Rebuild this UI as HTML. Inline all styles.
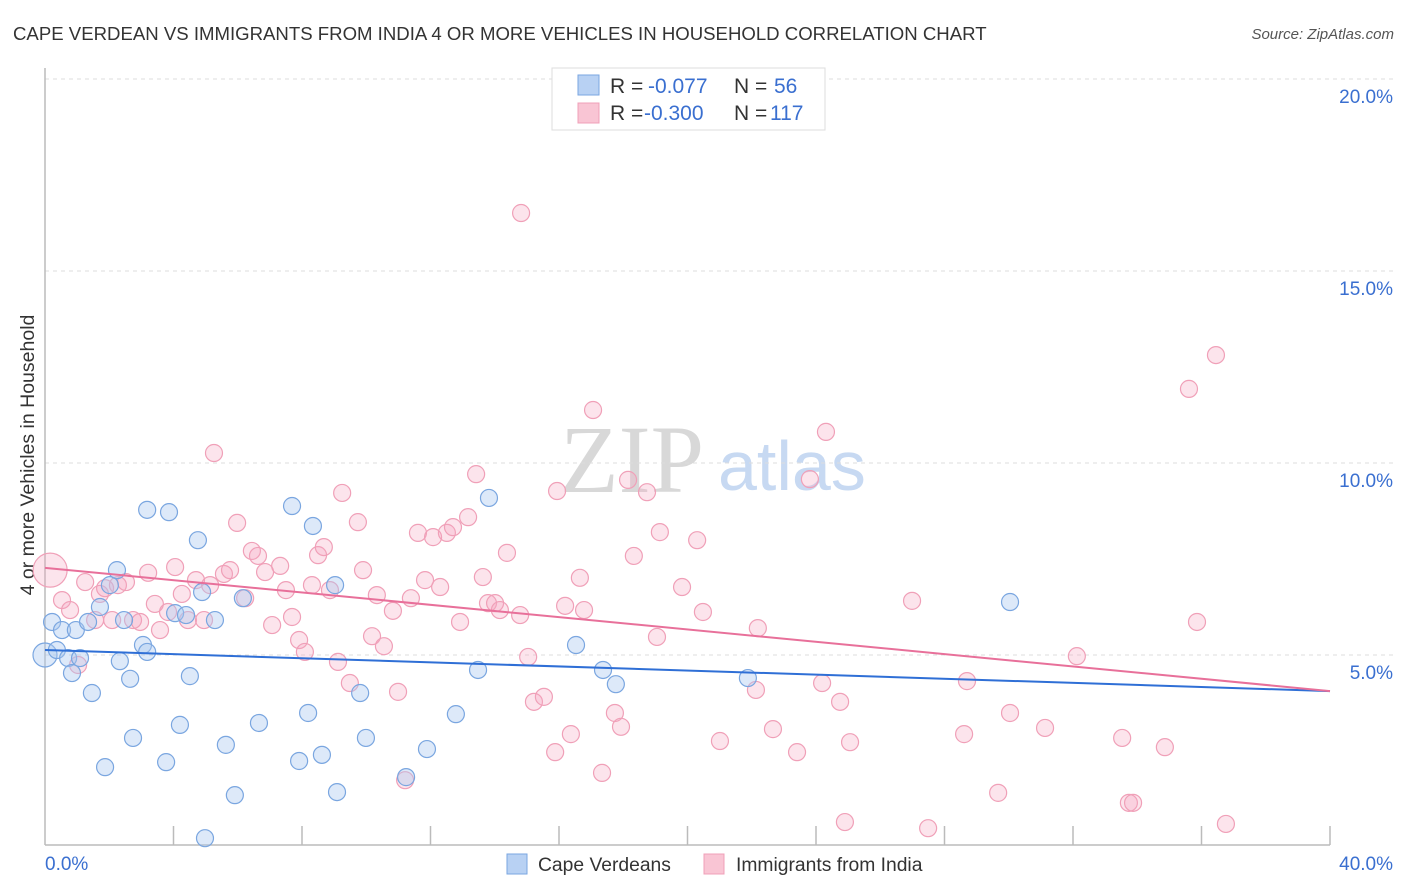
<!DOCTYPE html>
<html><head><meta charset="utf-8"><style>
body{margin:0;background:#fff;font-family:"Liberation Sans",sans-serif;}
#wrap{position:relative;width:1406px;height:892px;overflow:hidden;}
</style></head><body>
<div id="wrap">
<svg id="chart" width="1406" height="892" xmlns="http://www.w3.org/2000/svg">
<text x="13" y="40" font-size="18.6" fill="#333">CAPE VERDEAN VS IMMIGRANTS FROM INDIA 4 OR MORE VEHICLES IN HOUSEHOLD CORRELATION CHART</text>
<text x="1394" y="39" font-size="15" fill="#555" font-style="italic" text-anchor="end">Source: ZipAtlas.com</text>
<text transform="translate(34,455) rotate(-90)" font-size="19.5" fill="#333" text-anchor="middle">4 or more Vehicles in Household</text>
<text x="560" y="492" font-size="96" fill="#d8d8d8" font-family="Liberation Serif,serif">ZIP</text>
<text x="718" y="490" font-size="70" fill="#c7d9f2">atlas</text>
<g id="grid"></g><g id="axes"></g><g id="pts"></g><g id="lines"></g>
<g>
<rect x="552" y="68" width="273" height="62" fill="#fff" stroke="#ddd"/>
<rect x="578" y="75" width="21" height="20" fill="#b8d1f3" stroke="#7aa6e0"/>
<rect x="578" y="103" width="21" height="20" fill="#f9c5d4" stroke="#f0a0b8"/>
<text y="93" font-size="21"><tspan x="610" fill="#333">R = </tspan><tspan x="648" fill="#3a6fd0">-0.077</tspan><tspan x="734" fill="#333">N = </tspan><tspan x="774" fill="#3a6fd0">56</tspan></text>
<text y="120" font-size="21"><tspan x="610" fill="#333">R = </tspan><tspan x="644" fill="#3a6fd0">-0.300</tspan><tspan x="734" fill="#333">N = </tspan><tspan x="770" fill="#3a6fd0">117</tspan></text>
</g>
<g>
<rect x="507" y="854" width="20" height="20" fill="#b8d1f3" stroke="#7aa6e0"/>
<text x="538" y="871" font-size="19.3" fill="#333">Cape Verdeans</text>
<rect x="704" y="854" width="20" height="20" fill="#f9c5d4" stroke="#f0a0b8"/>
<text x="736" y="871" font-size="19.3" fill="#333">Immigrants from India</text>
</g>
</svg>
</div>
<script>
const yTicks=[5,10,15,20];
const yTickLabels=["5.0%","10.0%","15.0%","20.0%"];
const xTicks=[0,4,8,12,16,20,24,28,32,36,40];
const xEndLabels=["0.0%","40.0%"];
const blueX=[0,0.22,0.37,0.53,0.72,0.84,0.96,1.09,1.34,1.46,1.71,1.87,2.02,2.24,2.33,2.46,2.65,2.74,3.05,3.18,3.18,3.77,3.86,4.05,4.2,4.39,4.51,4.76,4.89,4.98,5.29,5.63,5.91,6.16,6.66,7.69,7.91,8.19,8.34,8.62,9.03,9.09,9.81,9.99,11.24,11.89,12.79,13.48,13.82,16.53,17.37,17.77,21.88,30.04];
const blueY=[5.0,5.86,5.13,5.65,4.92,4.53,5.65,4.92,5.86,4.01,6.25,2.08,6.82,7.21,4.84,5.91,4.38,2.84,5.26,8.78,5.08,2.21,8.72,6.09,3.18,6.04,4.45,7.99,6.64,0.23,5.91,2.66,1.35,6.48,3.23,8.88,2.24,3.49,8.36,2.4,6.82,1.43,4.01,2.84,1.82,2.55,3.46,4.61,9.09,5.26,4.61,4.24,4.4,6.38];
const pinkX=[0.16,0.53,0.78,1.03,1.25,1.56,1.71,1.87,2.09,2.27,2.52,2.74,2.96,3.21,3.42,3.58,3.83,4.05,4.26,4.45,4.7,4.95,5.14,5.26,5.57,5.76,5.98,6.23,6.44,6.63,6.85,7.07,7.32,7.5,7.69,7.91,8.09,8.31,8.5,8.68,8.87,9.12,9.25,9.49,9.74,9.9,10.18,10.33,10.55,10.83,10.99,11.21,11.39,11.61,11.83,12.08,12.3,12.51,12.7,12.92,13.17,13.42,13.63,13.79,14.01,14.16,14.38,14.79,14.82,15.04,15.22,15.53,15.88,15.94,16.19,16.37,16.65,16.78,17.06,17.34,17.74,17.93,18.15,18.33,18.74,19.05,19.14,19.83,20.3,20.48,21.01,22.13,22.19,22.66,23.41,23.81,24.31,24.19,24.75,24.9,25.06,26.99,27.49,28.7,28.61,29.67,30.04,31.13,32.12,33.53,33.74,33.87,34.86,35.61,35.86,36.45,36.76];
const pinkY=[7.21,6.43,6.17,4.74,6.9,5.91,6.59,6.74,5.91,6.82,6.9,5.91,5.86,7.14,6.33,5.65,6.12,7.29,6.59,5.91,6.95,5.91,6.82,10.26,7.11,7.21,8.44,6.48,7.71,7.58,7.16,5.78,7.32,6.69,5.99,5.39,5.08,6.82,7.6,7.81,6.69,4.82,9.22,4.27,8.46,7.21,5.49,6.56,5.23,6.15,4.04,1.74,6.48,8.18,6.95,8.07,6.77,8.18,8.33,5.86,8.59,9.71,7.03,6.35,6.35,6.17,7.66,6.04,16.51,4.95,3.78,3.91,2.47,9.27,6.28,2.94,7.01,6.17,11.38,1.93,3.49,3.13,9.56,7.58,9.24,5.47,8.2,6.77,7.99,6.12,2.76,4.09,5.7,3.07,2.47,9.58,10.81,4.27,3.78,0.65,2.73,6.41,0.49,4.32,2.94,1.41,3.49,3.1,4.97,2.84,1.15,1.15,2.6,11.93,5.86,12.81,0.6];
const blueTrend=[5.13,4.06];
const pinkTrend=[7.27,4.06];
const NS="http://www.w3.org/2000/svg";
const X0=45,X1=1330,Y0=847;
function sx(v){return X0+(X1-X0)*v/40;}
function sy(v){return Y0-38.4*v;}
function mk(tag,attrs,parent){const e=document.createElementNS(NS,tag);for(const k in attrs)e.setAttribute(k,attrs[k]);document.getElementById(parent).appendChild(e);return e;}
yTicks.forEach((t,i)=>{
 const l=mk('line',{x1:X0,x2:1393,y1:sy(t),y2:sy(t),stroke:'#ddd','stroke-dasharray':'4,4'},'grid');
 
 
 const tx=mk('text',{x:1393,y:sy(t)+24,'font-size':19,fill:'#3a6fd0','text-anchor':'end'},'grid');
 tx.textContent=yTickLabels[i];
 
 
});
const ya=mk('line',{x1:X0,x2:X0,y1:68,y2:Y0-2,stroke:'#bbb','stroke-width':1.5},'axes');


const xa=mk('line',{x1:X0,x2:X1,y1:Y0-2,y2:Y0-2,stroke:'#bbb','stroke-width':1.5},'axes');


xTicks.forEach(t=>{if(t===0)return;
 const l=mk('line',{x1:sx(t),x2:sx(t),y1:826,y2:Y0-2,stroke:'#bbb','stroke-width':1.5},'axes');
 
 
});
const xl0=mk('text',{x:45,y:870,'font-size':19,fill:'#3a6fd0'},'axes');xl0.textContent=xEndLabels[0];


const xl1=mk('text',{x:1393,y:870,'font-size':19,fill:'#3a6fd0','text-anchor':'end'},'axes');xl1.textContent=xEndLabels[1];


pinkX.forEach((x,i)=>{
 const c=mk('circle',{cx:sx(x),cy:sy(pinkY[i]),r:i===0?17:8.5,fill:'rgba(244,167,191,0.3)',stroke:'#f0a0b8','stroke-width':1.2},'pts');
 
 
});
blueX.forEach((x,i)=>{
 const c=mk('circle',{cx:sx(x),cy:sy(blueY[i]),r:i===0?12:8.5,fill:'rgba(170,200,240,0.4)',stroke:'#7aa6e0','stroke-width':1.2},'pts');
 
 
});
const bl=mk('line',{x1:sx(0),y1:sy(blueTrend[0]),x2:sx(40),y2:sy(blueTrend[1]),stroke:'#2f6fd6','stroke-width':2},'lines');


const pl=mk('line',{x1:sx(0),y1:sy(pinkTrend[0]),x2:sx(40),y2:sy(pinkTrend[1]),stroke:'#e8709a','stroke-width':2},'lines');


</script>
</body></html>
